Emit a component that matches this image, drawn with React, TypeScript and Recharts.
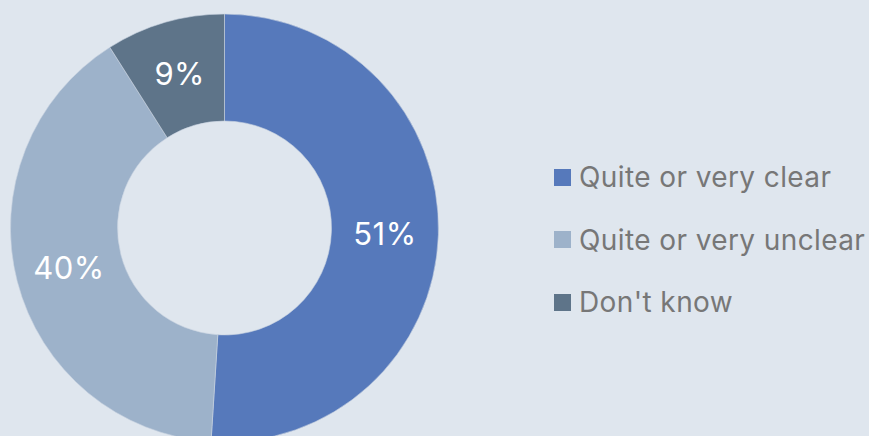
import { PieChart, Pie, Cell, Legend } from "recharts";

const categories = ["Quite or very clear", "Quite or very unclear", "Don't know"];
const shares = [51, 40, 9];
const colors = ["#5679bb", "#9db2ca", "#5e7489"];

const data = categories.map((name, i) => ({ name, value: shares[i] }));

const RADIAN = Math.PI / 180;
const FONT = "Inter, 'Noto Sans', sans-serif";

const renderLabel = (props: any) => {
  const { cx, cy, midAngle, innerRadius, outerRadius, value } = props;
  const r = (innerRadius + outerRadius) / 2;
  const x = cx + r * Math.cos(-midAngle * RADIAN);
  const y = cy + r * Math.sin(-midAngle * RADIAN);
  return (
    <text
      x={x}
      y={y}
      fill="#ffffff"
      fontSize={31}
      letterSpacing={0.5}
      fontFamily={FONT}
      textAnchor="middle"
      dominantBaseline="central"
    >
      {`${value}%`}
    </text>
  );
};

const renderLegend = () => (
  <div style={{ fontFamily: FONT }}>
    {categories.map((name, i) => (
      <div
        key={name}
        style={{
          display: "flex",
          alignItems: "center",
          height: 62.5,
          color: "#777777",
          fontSize: 28,
          letterSpacing: 0.4,
          whiteSpace: "nowrap",
        }}
      >
        <span
          style={{ width: 17, height: 17, background: colors[i], display: "inline-block", marginRight: 8, flexShrink: 0 }}
        />
        <span>{name}</span>
      </div>
    ))}
  </div>
);

export default function App() {
  return (
    <div
      style={{
        position: "fixed",
        left: 0,
        top: 0,
        width: 869,
        height: 436,
        background: "#dfe6ee",
        overflow: "hidden",
      }}
    >
      <PieChart width={869} height={436} margin={{ top: 0, right: 0, bottom: 0, left: 0 }}>
        <Pie
          data={data}
          dataKey="value"
          nameKey="name"
          cx={224.5}
          cy={228}
          innerRadius={107}
          outerRadius={214}
          startAngle={90}
          endAngle={-270}
          stroke="#c9d4e0"
          strokeWidth={0.6}
          label={renderLabel}
          labelLine={false}
          isAnimationActive={false}
        >
          {data.map((entry, i) => (
            <Cell key={entry.name} fill={colors[i]} />
          ))}
        </Pie>
        <Legend
          layout="vertical"
          align="right"
          verticalAlign="top"
          content={renderLegend}
          wrapperStyle={{ left: 554, top: 146, width: 315 }}
        />
      </PieChart>
    </div>
  );
}
